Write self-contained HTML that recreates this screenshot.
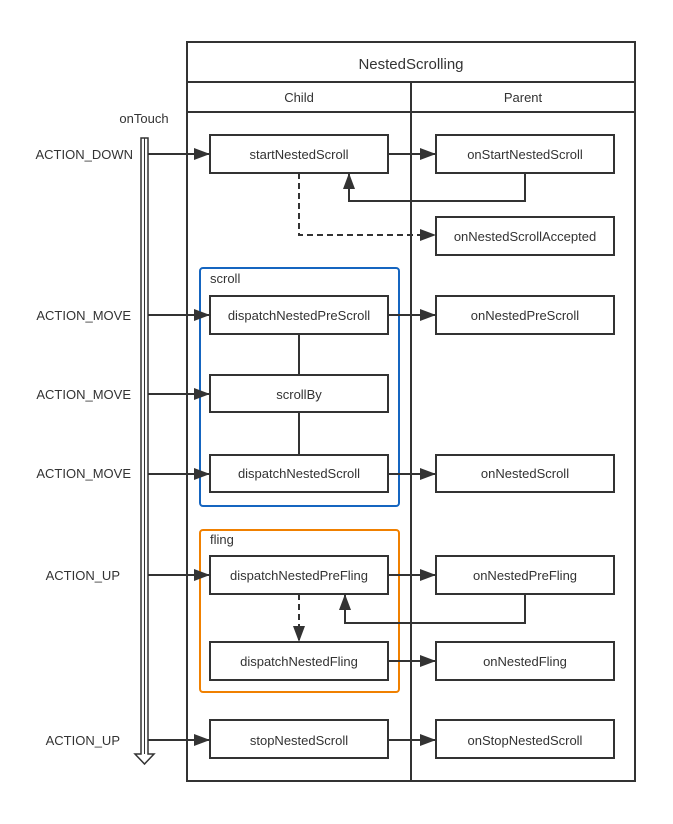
<!DOCTYPE html>
<html><head><style>body{margin:0;background:#fff}svg{display:block}text{font-family:"Liberation Sans",sans-serif;fill:#333;font-size:13px}</style></head><body>
<svg width="673" height="824" viewBox="0 0 673 824">
<defs><marker id="a" markerWidth="10" markerHeight="8" refX="10" refY="4" orient="auto" markerUnits="userSpaceOnUse"><path d="M0,0L10,4L0,8z" fill="#333"/></marker>
<marker id="b" markerWidth="16" markerHeight="12" refX="16" refY="6" orient="auto" markerUnits="userSpaceOnUse"><path d="M0,0L16,6L0,12z" fill="#333"/></marker></defs>
<g fill="none" stroke="#333" stroke-width="2">
<rect x="187" y="42" width="448" height="739"/>
<line x1="187" y1="82" x2="635" y2="82"/><line x1="187" y1="112" x2="635" y2="112"/>
<line x1="411" y1="82" x2="411" y2="781"/>
</g>
<text x="411" y="69" text-anchor="middle" font-size="15" style="font-size:15px">NestedScrolling</text>
<text x="299" y="102" text-anchor="middle">Child</text>
<text x="523" y="102" text-anchor="middle">Parent</text>
<text x="144" y="123" text-anchor="middle">onTouch</text>
<!-- touch bar -->
<g fill="#fff" stroke="#333" stroke-width="1.5"><path d="M141,138 V754 H135 L144.5,764 L154,754 H148 V138 Z"/></g>
<line x1="144.5" y1="138" x2="144.5" y2="754" stroke="#333" stroke-width="1"/>
<rect x="200" y="268" width="199" height="238" rx="3" fill="none" stroke="#1565c0" stroke-width="2"/>
<rect x="200" y="530" width="199" height="162" rx="3" fill="none" stroke="#f08000" stroke-width="2"/>
<text x="210" y="283">scroll</text><text x="210" y="544">fling</text>
<g fill="none" stroke="#333" stroke-width="2">
<rect x="210" y="135" width="178" height="38"/><rect x="436" y="135" width="178" height="38"/>
<rect x="436" y="217" width="178" height="38"/>
<rect x="210" y="296" width="178" height="38"/><rect x="436" y="296" width="178" height="38"/>
<rect x="210" y="375" width="178" height="37"/>
<rect x="210" y="455" width="178" height="37"/><rect x="436" y="455" width="178" height="37"/>
<rect x="210" y="556" width="178" height="38"/><rect x="436" y="556" width="178" height="38"/>
<rect x="210" y="642" width="178" height="38"/><rect x="436" y="642" width="178" height="38"/>
<rect x="210" y="720" width="178" height="38"/><rect x="436" y="720" width="178" height="38"/>
<line x1="148" y1="154" x2="210" y2="154" marker-end="url(#b)"/>
<line x1="148" y1="315" x2="210" y2="315" marker-end="url(#b)"/>
<line x1="148" y1="394" x2="210" y2="394" marker-end="url(#b)"/>
<line x1="148" y1="474" x2="210" y2="474" marker-end="url(#b)"/>
<line x1="148" y1="575" x2="210" y2="575" marker-end="url(#b)"/>
<line x1="148" y1="740" x2="210" y2="740" marker-end="url(#b)"/>
<line x1="388" y1="154" x2="436" y2="154" marker-end="url(#b)"/>
<line x1="388" y1="315" x2="436" y2="315" marker-end="url(#b)"/>
<line x1="388" y1="474" x2="436" y2="474" marker-end="url(#b)"/>
<line x1="388" y1="575" x2="436" y2="575" marker-end="url(#b)"/>
<line x1="388" y1="661" x2="436" y2="661" marker-end="url(#b)"/>
<line x1="388" y1="740" x2="436" y2="740" marker-end="url(#b)"/>
<path d="M525,173V201H349V173" marker-end="url(#b)"/>
<path d="M525,594V623H345V594" marker-end="url(#b)"/>
<path d="M299,173V235H436" stroke-dasharray="6,4" marker-end="url(#b)"/>
<path d="M299,594V642" stroke-dasharray="6,4" marker-end="url(#b)"/>
<line x1="299" y1="334" x2="299" y2="375"/><line x1="299" y1="412" x2="299" y2="455"/>
</g>
<g text-anchor="middle">
<text x="299" y="159">startNestedScroll</text><text x="525" y="159">onStartNestedScroll</text>
<text x="525" y="241">onNestedScrollAccepted</text>
<text x="299" y="320">dispatchNestedPreScroll</text><text x="525" y="320">onNestedPreScroll</text>
<text x="299" y="399">scrollBy</text>
<text x="299" y="478">dispatchNestedScroll</text><text x="525" y="478">onNestedScroll</text>
<text x="299" y="580">dispatchNestedPreFling</text><text x="525" y="580">onNestedPreFling</text>
<text x="299" y="666">dispatchNestedFling</text><text x="525" y="666">onNestedFling</text>
<text x="299" y="745">stopNestedScroll</text><text x="525" y="745">onStopNestedScroll</text>
</g>
<g text-anchor="end">
<text x="133" y="159">ACTION_DOWN</text><text x="131" y="320">ACTION_MOVE</text>
<text x="131" y="399">ACTION_MOVE</text><text x="131" y="478">ACTION_MOVE</text>
<text x="120" y="580">ACTION_UP</text><text x="120" y="745">ACTION_UP</text>
</g>
</svg>
</body></html>
